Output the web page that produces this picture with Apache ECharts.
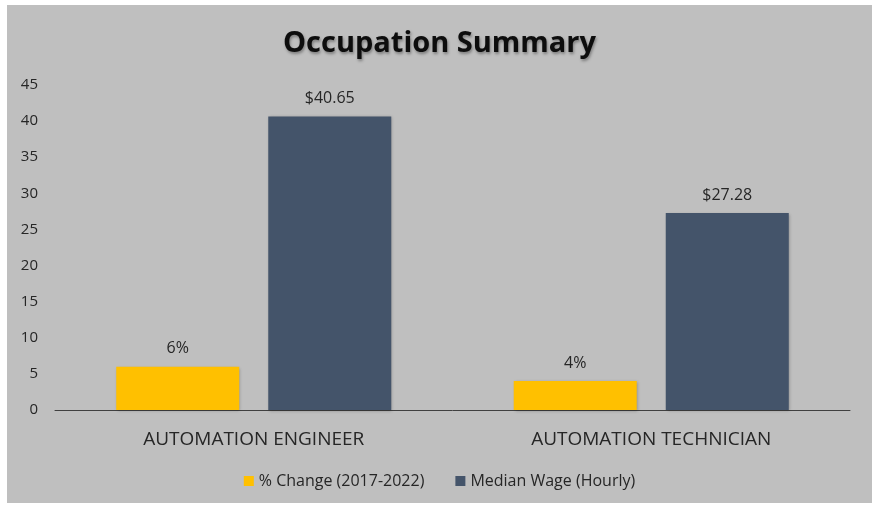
<!DOCTYPE html>
<html lang="en">
<head>
<meta charset="UTF-8">
<title>Occupation Summary</title>
<script src="https://cdn.jsdelivr.net/npm/echarts@6/dist/echarts.min.js"></script>
<style>
  html, body { margin: 0; padding: 0; background: #ffffff; }
  #chart { position: absolute; left: 7px; top: 5px; width: 865px; height: 498px; background: #bfbfbf; }
</style>
</head>
<body>
<div id="chart"></div>
<script>
var occupations = ['AUTOMATION ENGINEER', 'AUTOMATION TECHNICIAN'];
var pctChange = [6, 4];
var medianWage = [40.65, 27.28];
var yTicks = { min: 0, max: 45, step: 5 };

var chart = echarts.init(document.getElementById('chart'));
var fontFam = '"Open Sans", "Noto Sans", sans-serif';

chart.setOption({
  backgroundColor: '#bfbfbf',
  title: {
    text: 'Occupation Summary',
    left: 'center',
    top: 19,
    textStyle: {
      fontFamily: fontFam, fontSize: 29, fontWeight: 'bold', color: '#0d0d0d',
      textShadowColor: 'rgba(0,0,0,0.35)', textShadowBlur: 3, textShadowOffsetX: 1, textShadowOffsetY: 2
    }
  },
  legend: {
    bottom: 9,
    left: 'center',
    itemWidth: 10,
    itemHeight: 10,
    itemGap: 31,
    icon: 'rect',
    textStyle: { fontFamily: fontFam, fontSize: 16, color: '#262626' },
    data: ['% Change (2017-2022)', 'Median Wage (Hourly)']
  },
  grid: { left: 48, right: 22, top: 80, bottom: 93 },
  xAxis: {
    type: 'category',
    data: occupations,
    axisLine: { lineStyle: { color: '#404040', width: 1 } },
    axisTick: { show: false },
    axisLabel: { fontFamily: fontFam, fontSize: 19, color: '#262626', margin: 20 }
  },
  yAxis: {
    type: 'value',
    min: yTicks.min,
    max: yTicks.max,
    interval: yTicks.step,
    splitLine: { show: false },
    axisLine: { show: false },
    axisTick: { show: false },
    axisLabel: { fontFamily: fontFam, fontSize: 15, color: '#262626', margin: 17 }
  },
  series: [
    {
      name: '% Change (2017-2022)',
      type: 'bar',
      data: pctChange,
      barWidth: 123,
      barGap: '23.6%',
      itemStyle: { color: '#ffc000', shadowColor: 'rgba(0,0,0,0.25)', shadowBlur: 3, shadowOffsetX: 1, shadowOffsetY: 1 },
      label: {
        show: true, position: 'top', distance: 10,
        formatter: function (p) { return p.value + '%'; },
        fontFamily: fontFam, fontSize: 16, color: '#262626'
      }
    },
    {
      name: 'Median Wage (Hourly)',
      type: 'bar',
      data: medianWage,
      barWidth: 123,
      itemStyle: { color: '#44546a', shadowColor: 'rgba(0,0,0,0.25)', shadowBlur: 3, shadowOffsetX: 1, shadowOffsetY: 1 },
      label: {
        show: true, position: 'top', distance: 10,
        formatter: function (p) { return '$' + p.value.toFixed(2); },
        fontFamily: fontFam, fontSize: 16, color: '#262626'
      }
    }
  ]
});
</script>
</body>
</html>
